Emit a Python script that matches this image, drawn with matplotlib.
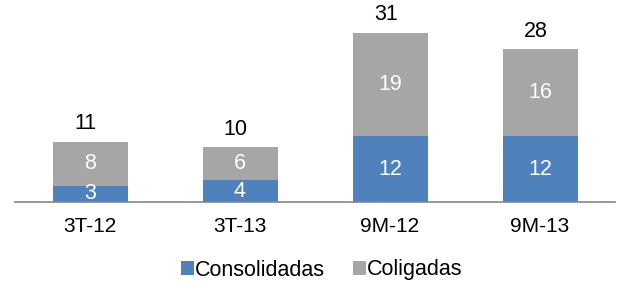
import matplotlib.pyplot as plt
import numpy as np

plt.rcParams['font.family'] = ['Liberation Sans', 'DejaVu Sans']

categorias = ['3T-12', '3T-13', '9M-12', '9M-13']
consolidadas = [3, 4, 12, 12]
coligadas = [8, 6, 19, 16]
totais = [11, 10, 31, 28]

azul = '#4F81BD'
cinza = '#A6A6A6'

fig = plt.figure(figsize=(6.19, 2.82), dpi=100)
ax = fig.add_axes([15 / 619, 80 / 282, 600 / 619, 202 / 282])

x = np.arange(len(categorias))
b1 = ax.bar(x, consolidadas, width=0.5, color=azul, label='Consolidadas')
b2 = ax.bar(x, coligadas, width=0.5, bottom=consolidadas, color=cinza, label='Coligadas')

for i in range(len(x)):
    ax.text(x[i], consolidadas[i] / 2, str(consolidadas[i]), ha='center', va='center',
            color='white', fontsize=15.5)
    ax.text(x[i], consolidadas[i] + coligadas[i] / 2, str(coligadas[i]), ha='center',
            va='center', color='white', fontsize=15.5)
    ax.annotate(str(totais[i]), (x[i], totais[i]), xytext=(-3, 13), textcoords='offset points',
                ha='center', va='center', fontsize=15.5)

ax.set_xlim(-0.5, 3.5)
ax.set_ylim(0, 37)
ax.set_xticks(x)
ax.set_xticklabels(categorias, fontsize=15)
ax.tick_params(axis='x', length=0, pad=11)
ax.set_yticks([])
for s in ['top', 'right', 'left']:
    ax.spines[s].set_visible(False)
ax.spines['bottom'].set_color('#868686')
ax.spines['bottom'].set_linewidth(1.2)

fig.legend(handles=[b1, b2], loc='center', bbox_to_anchor=(322 / 619, 1 - 270 / 282),
           ncol=2, frameon=False, fontsize=15.5, handlelength=0.6, handleheight=0.6,
           handletextpad=0.05, columnspacing=1.3)

fig.savefig('out.png', dpi=100)
